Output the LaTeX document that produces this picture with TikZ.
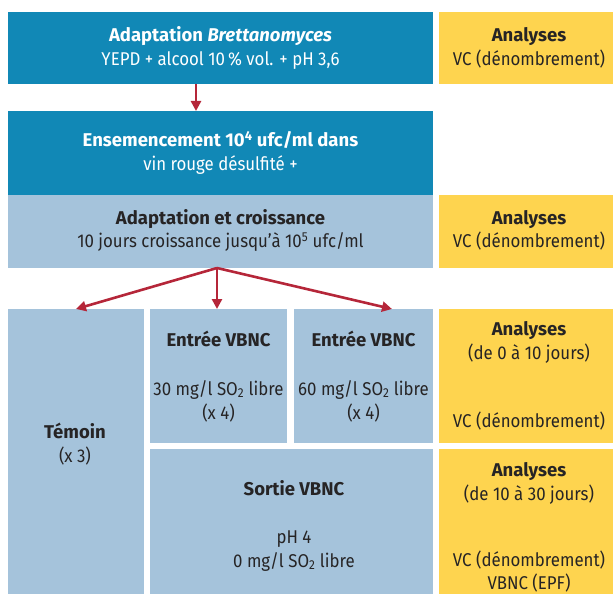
\documentclass[tikz,border=0pt]{standalone}
\usepackage{fontspec}
\setmainfont{Fira Sans}[UprightFeatures={FakeStretch=0.91},ItalicFeatures={FakeStretch=0.91},BoldFeatures={FakeStretch=1.0},BoldItalicFeatures={FakeStretch=1.0}]
\usetikzlibrary{arrows.meta}
\definecolor{dblue}{HTML}{1188B6}
\definecolor{lblue}{HTML}{A5C3DB}
\definecolor{ylw}{HTML}{FED44F}
\definecolor{arred}{HTML}{B52639}
\definecolor{txtdark}{HTML}{262425}
\newcommand{\tl}[1]{\begin{tabular}[t]{@{}c@{}}#1\end{tabular}}
\begin{document}
\begin{tikzpicture}[x=1pt,y=-1pt,
  box/.style={rectangle,inner sep=0pt,outer sep=0pt,draw=none},
  txt/.style={inner sep=0pt,anchor=base,text=txtdark,font=\fontsize{18.5}{24}\selectfont},
  wtxt/.style={txt,text=white},
  arr/.style={draw=arred,line width=2.6pt,-{Triangle[width=10pt,length=10pt]}}]
\useasboundingbox (0,0) rectangle (614,594);
% boxes
\node[box,fill=dblue,minimum width=425pt,minimum height=72pt] (B1) at (220.5,48) {};
\node[box,fill=ylw,minimum width=174pt,minimum height=72pt] (Y1) at (526,48) {};
\node[box,fill=dblue,minimum width=425pt,minimum height=84pt] (B2) at (220.5,153) {};
\node[box,fill=lblue,minimum width=425pt,minimum height=73pt] (L3) at (220.5,231.5) {};
\node[box,fill=ylw,minimum width=174pt,minimum height=73pt] (Y2) at (526,231.5) {};
\node[box,fill=lblue,minimum width=136pt,minimum height=285pt] (T) at (76,451.5) {};
\node[box,fill=lblue,minimum width=137pt,minimum height=134pt] (E1) at (218.5,376) {};
\node[box,fill=lblue,minimum width=139pt,minimum height=134pt] (E2) at (363.5,376) {};
\node[box,fill=ylw,minimum width=174pt,minimum height=134pt] (Y3) at (526,376) {};
\node[box,fill=lblue,minimum width=283pt,minimum height=145pt] (S) at (291.5,521.5) {};
\node[box,fill=ylw,minimum width=174pt,minimum height=145pt] (Y4) at (526,521.5) {};
% texts
\node[wtxt] (tB1) at (220.5,41.7) {\tl{\textbf{Adaptation \textit{Brettanomyces}}\\YEPD + alcool 10\,\% vol. + pH 3,6}};
\node[txt] (tY1) at (529,41.7) {\tl{\textbf{Analyses}\\VC (dénombrement)}};
\node[wtxt] (tB2) at (220.5,146.7) {\tl{\textbf{Ensemencement 10\textsuperscript{4} ufc/ml dans}\\vin rouge désulfité +}};
\node[txt] (tL3) at (220.5,224) {\tl{\textbf{Adaptation et croissance}\\10 jours croissance jusqu’à 10\textsuperscript{5} ufc/ml}};
\node[txt] (tY2) at (529,224) {\tl{\textbf{Analyses}\\VC (dénombrement)}};
\node[txt] (tE1) at (218.5,346.7) {\tl{\textbf{Entrée VBNC}\\[24.3pt]30 mg/l SO\textsubscript{2} libre\\(x 4)}};
\node[txt] (tE2) at (363.5,346.7) {\tl{\textbf{Entrée VBNC}\\[24.3pt]60 mg/l SO\textsubscript{2} libre\\(x 4)}};
\node[txt] (tY3) at (529,335) {\tl{\textbf{Analyses}\\(de 0 à 10 jours)\\[44pt]VC (dénombrement)}};
\node[txt] (tT) at (75,438) {\tl{\textbf{Témoin}\\(x 3)}};
\node[txt] (tS) at (294,495) {\tl{\textbf{Sortie VBNC}\\[24pt]pH 4\\0 mg/l SO\textsubscript{2} libre}};
\node[txt] (tY4) at (529,476) {\tl{\textbf{Analyses}\\(de 10 à 30 jours)\\[42.7pt]VC (dénombrement)\\[-1.5pt]VBNC (EPF)}};
% connectors
\coordinate (a1) at (196,84);
\draw[arr] (a1) -- (a1 |- B2.north);
\coordinate (fork) at (217,268);
\draw[arr] (fork) -- (T.north);
\draw[arr] (fork) -- (fork |- E1.north);
\draw[arr] (fork) -- ([xshift=28.5pt]E2.north);
\end{tikzpicture}
\end{document}
